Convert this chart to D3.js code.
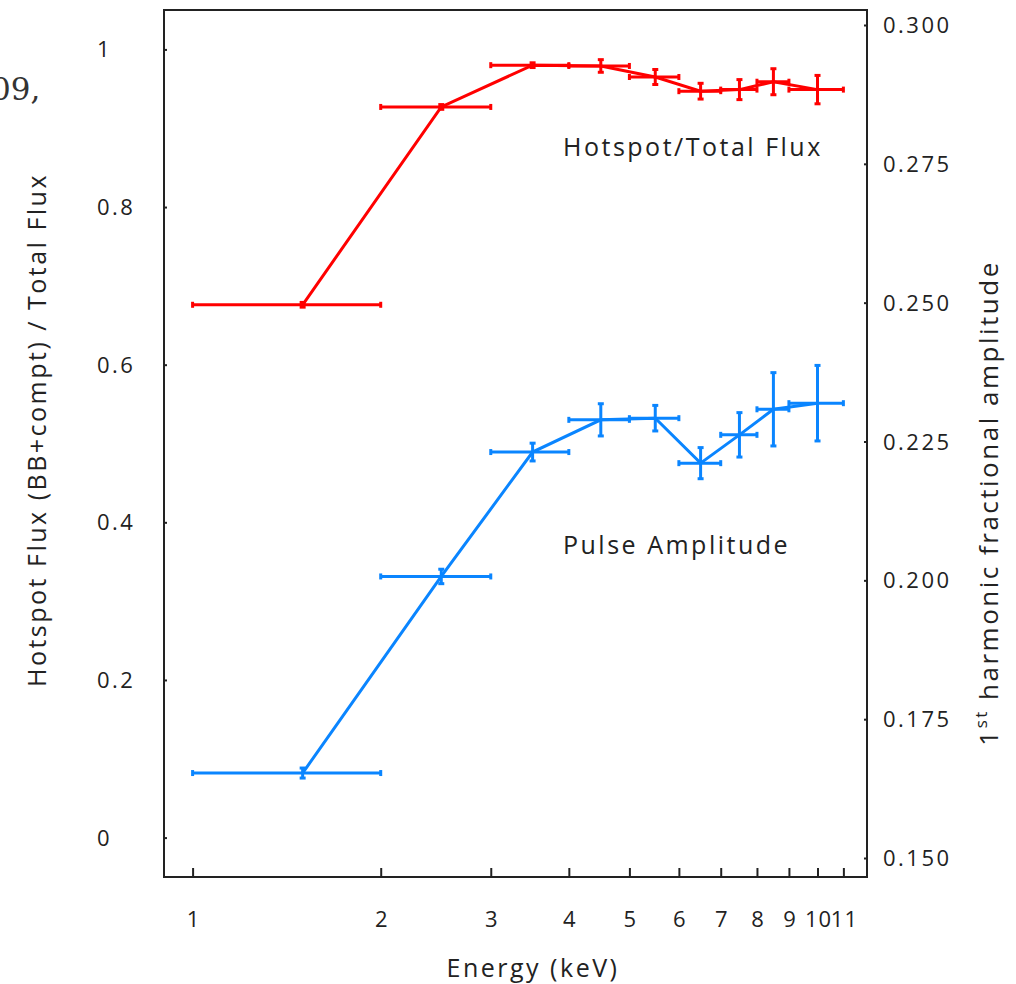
<!doctype html>
<html>
<head>
<meta charset="utf-8">
<script src="https://d3js.org/d3.v7.min.js"></script>
<style>
  body { margin: 0; background: #fff; }
  svg text { font-family: "Open Sans", sans-serif; fill: #222; }
</style>
</head>
<body>
<svg id="chart" width="1016" height="984"></svg>
<script>
// energy bins (keV)
var binLo  = [1, 2, 3, 4, 5, 6, 7, 8, 9];
var binHi  = [2, 3, 4, 5, 6, 7, 8, 9, 11];
var binMid = [1.5, 2.5, 3.5, 4.5, 5.5, 6.5, 7.5, 8.5, 10];

// hotspot / total flux (left axis)
var fluxFrac = [0.676, 0.927, 0.980, 0.979, 0.965, 0.947, 0.949, 0.959, 0.949];
var fluxErr  = [0.003, 0.003, 0.003, 0.008, 0.0095, 0.010, 0.0127, 0.0165, 0.018];

// 1st harmonic pulse amplitude (right axis)
var pulseAmp = [0.1653, 0.2007, 0.2231, 0.2289, 0.2292, 0.2211, 0.2262, 0.2308, 0.2319];
var pulseErr = [0.0009, 0.0013, 0.0016, 0.0029, 0.0023, 0.0028, 0.0040, 0.0066, 0.0068];

var xTicks = [1, 2, 3, 4, 5, 6, 7, 8, 9, 10, 11];
var leftTicks = [0, 0.2, 0.4, 0.6, 0.8, 1];
var rightTicks = [0.150, 0.175, 0.200, 0.225, 0.250, 0.275, 0.300];

var svg = d3.select("#chart")
var pL = 164, pR = 867, pT = 10, pB = 877

var x = d3.scaleLog().domain([0.9, 12]).range([pL, pR])
var yL = d3.scaleLinear().domain([-0.05, 1.05]).range([pB, pT])
var yR = d3.scaleLinear().domain([0.14658, 0.30270]).range([pB, pT])

svg.append("rect").attr("width", 1016).attr("height", 984).attr("fill", "#fff")

// cropped caption fragment
svg.append("text").attr("x", -9).attr("y", 100).text("09,")
    .style("font-family", "'DejaVu Serif', serif").style("font-size", "31px").style("fill", "#333")

// axes (ticks pointing inward)
svg.append("g").attr("transform", "translate(0," + pB + ")")
    .call(d3.axisTop(x).tickValues(xTicks).tickSize(9).tickFormat(""))
svg.append("g").attr("transform", "translate(" + pL + ",0)")
    .call(d3.axisRight(yL).tickValues(leftTicks).tickSize(3).tickFormat(""))
svg.append("g").attr("transform", "translate(" + pR + ",0)")
    .call(d3.axisLeft(yR).tickValues(rightTicks).tickSize(3).tickFormat(""))
svg.selectAll(".domain").remove()
svg.selectAll(".tick line").attr("stroke", "#222").attr("stroke-width", 2)

svg.append("rect").attr("x", pL).attr("y", pT)
    .attr("width", pR - pL).attr("height", pB - pT)
    .attr("fill", "none").attr("stroke", "#222").attr("stroke-width", 2)

// tick labels
svg.selectAll(".xlab").data(xTicks).enter().append("text")
    .attr("x", function(d) { return x(d) + 1 }).attr("y", 927)
    .attr("text-anchor", "middle").style("font-size", "22px").style("letter-spacing", "1px")
    .text(function(d) { return d })
svg.selectAll(".ylab").data(leftTicks).enter().append("text")
    .attr("x", 97).attr("y", function(d) { return yL(d) + 8 })
    .style("font-size", "22px").style("letter-spacing", "2.5px")
    .text(function(d) { return d === 0 || d === 1 ? d : d3.format(".1f")(d) })
svg.selectAll(".rlab").data(rightTicks).enter().append("text")
    .attr("x", 883).attr("y", function(d) { return yR(d) + 8 })
    .style("font-size", "22px").style("letter-spacing", "2.5px")
    .text(function(d) { return d3.format(".3f")(d) })

// axis titles
svg.append("text").attr("x", 533).attr("y", 977).attr("text-anchor", "middle")
    .style("font-size", "25px").style("letter-spacing", "2.5px").text("Energy (keV)")
svg.append("text").attr("transform", "translate(46,430) rotate(-90)")
    .attr("text-anchor", "middle").style("font-size", "25px").style("letter-spacing", "2.5px")
    .text("Hotspot Flux (BB+compt) / Total Flux")
var rt = svg.append("text").attr("transform", "translate(998,503) rotate(-90)")
    .attr("text-anchor", "middle").style("font-size", "26px").style("letter-spacing", "2.5px")
rt.append("tspan").text("1")
rt.append("tspan").attr("baseline-shift", "super").style("font-size", "17px").text("st")
rt.append("tspan").text(" harmonic fractional amplitude")

// series
function drawSeries(vals, errs, y, color) {
    var g = svg.append("g").attr("stroke", color).attr("stroke-width", 3).attr("fill", "none")
    var pts = binMid.map(function(e, i) { return [x(e), y(vals[i])] })
    g.append("path").attr("d", d3.line()(pts))
    var cap = 3
    binMid.forEach(function(e, i) {
        var cy = y(vals[i]), cx = x(e)
        var x0 = x(binLo[i]), x1 = x(binHi[i])
        var y0 = y(vals[i] - errs[i]), y1 = y(vals[i] + errs[i])
        g.append("line").attr("x1", x0).attr("x2", x1).attr("y1", cy).attr("y2", cy)
        g.append("line").attr("x1", x0).attr("x2", x0).attr("y1", cy - cap).attr("y2", cy + cap)
        g.append("line").attr("x1", x1).attr("x2", x1).attr("y1", cy - cap).attr("y2", cy + cap)
        g.append("line").attr("x1", cx).attr("x2", cx).attr("y1", y0).attr("y2", y1)
        g.append("line").attr("x1", cx - cap).attr("x2", cx + cap).attr("y1", y0).attr("y2", y0)
        g.append("line").attr("x1", cx - cap).attr("x2", cx + cap).attr("y1", y1).attr("y2", y1)
    })
}
drawSeries(fluxFrac, fluxErr, yL, "#ff0000")
drawSeries(pulseAmp, pulseErr, yR, "#0a85ff")

// series labels
svg.append("text").attr("x", 563).attr("y", 156).style("font-size", "25px")
    .style("letter-spacing", "2.5px").text("Hotspot/Total Flux")
svg.append("text").attr("x", 563).attr("y", 554).style("font-size", "25px")
    .style("letter-spacing", "2.5px").text("Pulse Amplitude")
</script>
</body>
</html>
